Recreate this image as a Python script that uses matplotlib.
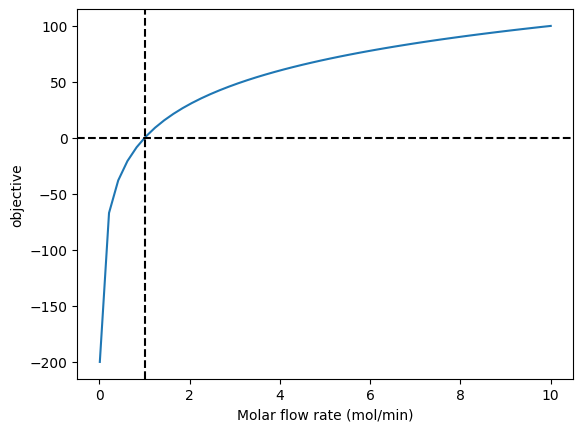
import matplotlib
matplotlib.use("Agg")
import matplotlib.pyplot as plt

# values
flow_rate = [0.01, 0.2139, 0.4178, 0.6216, 0.8255, 1.0294, 1.2333, 1.4371, 1.6410, 1.8449,
             2.0488, 2.2527, 2.4565, 2.6604, 2.8643, 3.0682, 3.2720, 3.4759, 3.6798, 3.8837,
             4.0876, 4.2914, 4.4953, 4.6992, 4.9031, 5.1069, 5.3108, 5.5147, 5.7186, 5.9224,
             6.1263, 6.3302, 6.5341, 6.7380, 6.9418, 7.1457, 7.3496, 7.5535, 7.7573, 7.9612,
             8.1651, 8.3690, 8.5729, 8.7767, 8.9806, 9.1845, 9.3884, 9.5922, 9.7961, 10.0]
objective = [-200.0, -66.98, -37.91, -20.65, -8.33, 1.26, 9.11, 15.75, 21.51, 26.60,
             31.15, 35.27, 39.03, 42.49, 45.70, 48.69, 51.48, 54.11, 56.58, 58.92,
             61.15, 63.26, 65.28, 67.20, 69.05, 70.82, 72.52, 74.15, 75.73, 77.25,
             78.72, 80.14, 81.52, 82.85, 84.15, 85.41, 86.63, 87.82, 88.97, 90.10,
             91.20, 92.27, 93.31, 94.33, 95.33, 96.31, 97.26, 98.19, 99.11, 100.0]
zero_line = 0
breakeven_flow = 1

fig, ax = plt.subplots(figsize=(6.4, 4.8))
ax.plot(flow_rate, objective)
ax.axhline(zero_line, color='k', linestyle='--')
ax.axvline(breakeven_flow, color='k', linestyle='--')
ax.set_xlabel('Molar flow rate (mol/min)')
ax.set_ylabel('objective')

plt.savefig('out.png', dpi=100, bbox_inches='tight')
plt.close()
